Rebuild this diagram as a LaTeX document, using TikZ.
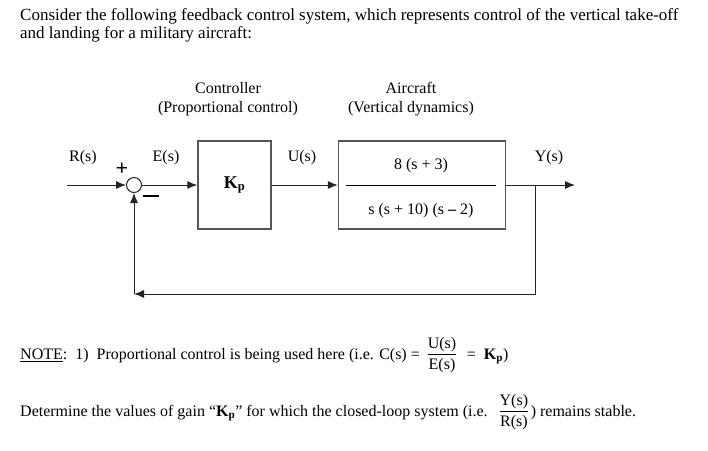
\documentclass[tikz,border=0pt]{standalone}
\usepackage{fontspec}
\setmainfont{Liberation Serif}
\usetikzlibrary{calc,positioning,arrows.meta}
\definecolor{boxgray}{HTML}{555555}
\definecolor{wiregray}{HTML}{222222}

\newcommand{\gainK}{\textbf{K}\textsubscript{\textbf{p}}}
\newcommand{\ratio}[2]{\ensuremath{\vcenter{\hbox{\begin{tabular}{@{}c@{}}\rule[-4pt]{0pt}{10pt}#1\\\hline\rule{0pt}{15pt}#2\end{tabular}}}}}

\begin{document}
\begin{tikzpicture}[x=1pt, y=-1pt, font=\fontsize{16}{19}\selectfont,
  blk/.style={draw=boxgray, line width=1.4pt, minimum height=88pt},
  sig/.style={-{Latex[length=10pt,width=8pt]}, line width=1pt, draw=wiregray},
  wire/.style={line width=1pt, draw=wiregray}]
  \useasboundingbox (0,0) rectangle (708,450);

  % question text
  \node[anchor=west, align=left, inner sep=0pt, font=\fontsize{17}{18}\selectfont] (intro) at (20,25)
    {Consider the following feedback control system, which represents control of the vertical take-off\\
     and landing for a military aircraft:};

  % block titles
  \node[align=center, inner sep=0pt] (ctrltitle) at (228,99) {Controller\\(Proportional control)};
  \node[align=center, inner sep=0pt] (planttitle) at (411,99) {Aircraft\\(Vertical dynamics)};

  % blocks
  \node[circle, draw=wiregray, line width=1pt, minimum size=15pt, inner sep=0pt] (sum) at (134,185) {};
  \node[blk, minimum width=73pt, font=\fontsize{18}{18}\selectfont] (ctrl) at (234.5,185) {\gainK};
  \node[blk, minimum width=167pt] (plant) at (422,185) {};
  \node (num) at (421,166) {8 (s + 3)};
  \node (den) at (421,211) {s (s + 10) (s \textbf{--} 2)};
  \draw[line width=1pt] ($(plant.west)+(8,0)$) -- ($(plant.east)+(-10,0)$);

  % signals
  \coordinate (rin) at (67,185);
  \coordinate (ydot) at (535,185);
  \coordinate (yout) at (575,185);
  \coordinate (fb) at (134,294);
  \draw[sig] (rin) -- (sum.west);
  \draw[sig] (sum.east) -- (ctrl.west);
  \draw[sig] (ctrl.east) -- (plant.west);
  \draw[sig] (plant.east) -- (yout);
  \draw[sig] (ydot) |- (fb);
  \draw[sig] (fb) -- (sum.south);

  % signal labels
  \node (rlbl) at (83,158) {R(s)};
  \node (elbl) at (166,158) {E(s)};
  \node (ulbl) at (302,158) {U(s)};
  \node (ylbl) at (549,158) {Y(s)};
  \node[font=\fontsize{22}{22}\selectfont\bfseries] (plus) at (122,169) {+};
  \node[inner sep=0pt] (minus) at (151,196) {\rule{16pt}{1.8pt}};

  % note and question
  \node[anchor=west, inner sep=0pt] (note) at (20,355)
    {\underline{NOTE}:\ \ 1)\ \ Proportional control is being used here (i.e. C(s) =\ \ \ratio{U(s)}{E(s)}\ \ \,=\ \ \gainK)};
  \node[anchor=west, inner sep=0pt] (task) at (20,412)
    {Determine the values of gain “\gainK” for which the closed-loop system (i.e.\ \ \ \ratio{Y(s)}{R(s)}\,) remains stable.};
\end{tikzpicture}
\end{document}
